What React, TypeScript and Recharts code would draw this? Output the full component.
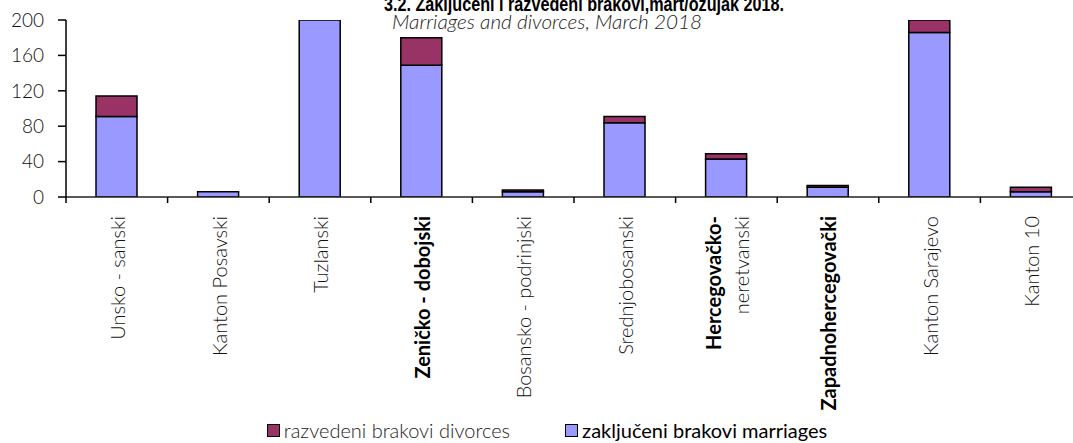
import { BarChart, Bar, XAxis, YAxis, Legend } from "recharts";

const cantons = [
  "Unsko - sanski",
  "Kanton Posavski",
  "Tuzlanski",
  "Zeničko - dobojski",
  "Bosansko - podrinjski",
  "Srednjobosanski",
  "Hercegovačko-\nneretvanski",
  "Zapadnohercegovački",
  "Kanton Sarajevo",
  "Kanton 10"
];
const marriages = [91, 6, 235, 149, 6, 84, 43, 11, 186, 6];
const divorces = [23, 0, 28, 31, 2, 7, 6, 2, 45, 5];
const yTicks = [0, 40, 80, 120, 160, 200];

const seriesNames = {
  marriages: "zaključeni brakovi marriages",
  divorces: "razvedeni brakovi divorces"
};
const legendOrder = ["divorces", "marriages"];

const data = cantons.map((name, i) => ({
  name,
  marriages: marriages[i],
  divorces: divorces[i]
}));

const CHART_W = 1082;
const Y_AXIS_W = 66;
const BAND = (CHART_W - Y_AXIS_W) / cantons.length;
const FONT = "Lato, 'Liberation Sans', sans-serif";
const boldLines = ["Zeničko - dobojski", "Hercegovačko-", "Zapadnohercegovački"];

function CantonTick(props: any) {
  const { x, y, payload, index } = props;
  const lines: string[] = String(payload.value).split("\n");
  const isLast = index === cantons.length - 1;
  return (
    <g>
      <line x1={x - BAND / 2} x2={x - BAND / 2} y1={y} y2={y + 6} stroke="#000" strokeWidth={1.5} />
      {isLast && (
        <line x1={x + BAND / 2} x2={x + BAND / 2} y1={y} y2={y + 6} stroke="#000" strokeWidth={1.5} />
      )}
      {lines.map((line, i) => {
        const bold = boldLines.includes(line);
        const dx = (i - (lines.length - 1) / 2) * 28;
        return (
          <text
            key={line}
            transform={`translate(${x + dx + 1}, ${y + 19}) rotate(-90)`}
            textAnchor="end"
            dy="0.36em"
            fontFamily={FONT}
            fontSize={20}
            fontWeight={bold ? 700 : 300}
            fill={bold ? "#000" : "#111"}
          >
            {line}
          </text>
        );
      })}
    </g>
  );
}

function LegendContent(props: any) {
  const items = [...(props.payload || [])].sort(
    (a: any, b: any) => legendOrder.indexOf(a.dataKey) - legendOrder.indexOf(b.dataKey)
  );
  return (
    <div
      style={{
        display: "flex",
        justifyContent: "center",
        alignItems: "center",
        height: 26,
        fontFamily: FONT,
        fontSize: 20,
        paddingLeft: 12
      }}
    >
      {items.map((item: any, i: number) => (
        <span
          key={item.dataKey}
          style={{
            display: "flex",
            alignItems: "center",
            marginLeft: i > 0 ? 55 : 0,
            color: item.dataKey === "marriages" ? "#000" : "#222",
            fontWeight: item.dataKey === "marriages" ? 400 : 300
          }}
        >
          <span
            style={{
              display: "inline-block",
              width: 11,
              height: 11,
              background: item.color,
              border: "1.5px solid #000",
              marginRight: 4
            }}
          />
          {item.value}
        </span>
      ))}
    </div>
  );
}

export default function App() {
  return (
    <div
      style={{
        position: "fixed",
        left: 0,
        top: 0,
        width: 1073,
        height: 443,
        overflow: "hidden",
        background: "#fff"
      }}
    >
      <BarChart
        width={CHART_W}
        height={443}
        data={data}
        margin={{ top: 20, right: 0, bottom: 0, left: 0 }}
        barSize={41}
      >
        <XAxis
          dataKey="name"
          interval={0}
          tickLine={false}
          tickSize={0}
          tickMargin={0}
          height={220}
          tick={<CantonTick />}
          axisLine={{ stroke: "#222", strokeWidth: 1.5 }}
        />
        <YAxis
          width={Y_AXIS_W}
          domain={[0, 200]}
          ticks={yTicks}
          allowDataOverflow
          tickSize={8}
          tickMargin={14}
          tick={{ fontFamily: FONT, fontSize: 19, fontWeight: 300, fill: "#111" }}
          tickLine={{ stroke: "#000", strokeWidth: 1.5 }}
          axisLine={{ stroke: "#000", strokeWidth: 1.5 }}
        />
        <Legend verticalAlign="bottom" height={26} content={<LegendContent />} />
        <Bar
          dataKey="marriages"
          name={seriesNames.marriages}
          stackId="a"
          fill="#9999FF"
          stroke="#000"
          strokeWidth={1.5}
          isAnimationActive={false}
        />
        <Bar
          dataKey="divorces"
          name={seriesNames.divorces}
          stackId="a"
          fill="#993366"
          stroke="#000"
          strokeWidth={1.5}
          isAnimationActive={false}
        />
      </BarChart>
      <svg
        width={1073}
        height={40}
        style={{ position: "absolute", left: 0, top: 0, pointerEvents: "none" }}
      >
        <text
          x={384}
          y={11}
          textLength={400}
          lengthAdjust="spacingAndGlyphs"
          fontFamily="'Liberation Sans Narrow', 'Liberation Sans', sans-serif"
          fontWeight={700}
          fontSize={20}
          fill="#000"
        >
          3.2. Zaključeni i razvedeni brakovi,mart/ožujak 2018.
        </text>
        <text
          x={392}
          y={29}
          textLength={310}
          lengthAdjust="spacingAndGlyphs"
          fontFamily={FONT}
          fontStyle="italic"
          fontWeight={300}
          fontSize={19}
          fill="#222"
        >
          Marriages and divorces, March 2018
        </text>
      </svg>
    </div>
  );
}
